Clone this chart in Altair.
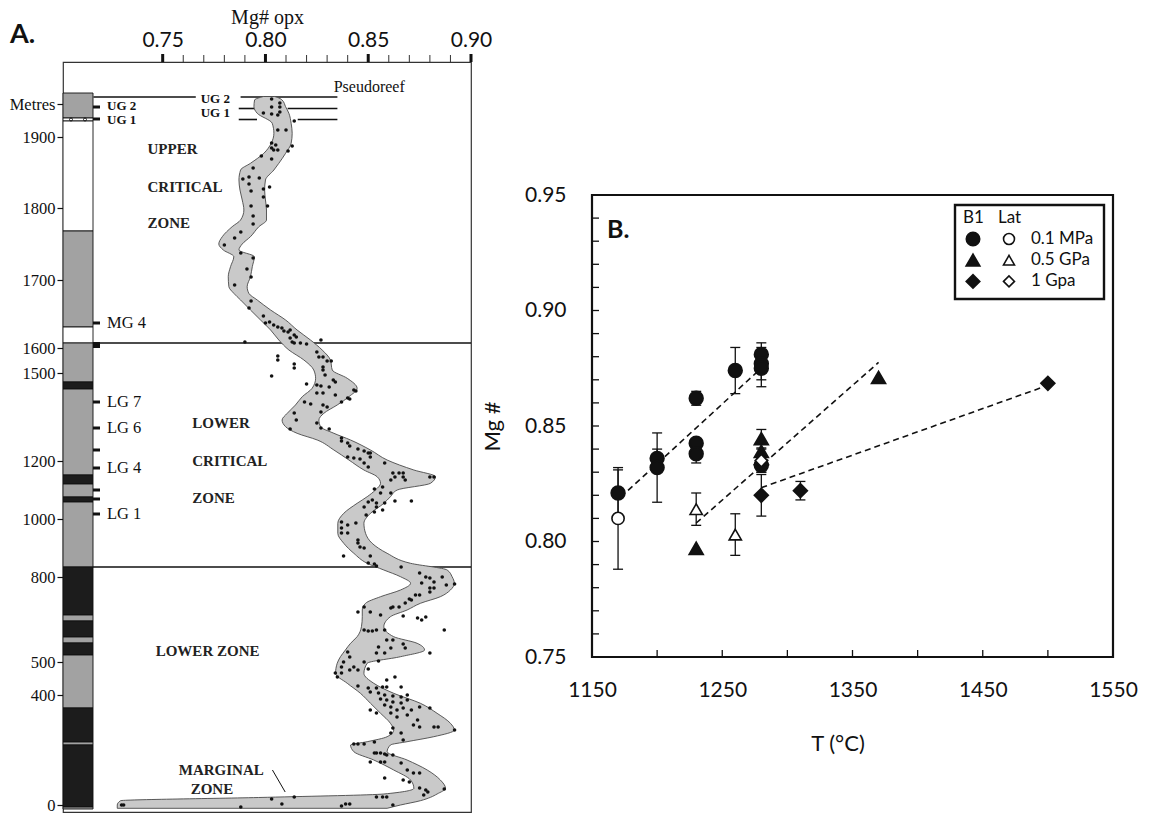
import altair as alt
import pandas as pd

SERIF = "Liberation Serif"
SANS = "Lato"
INK = "#111111"

# ============================ Panel A data ============================
mg_axis_labels = [0.75, 0.80, 0.85, 0.90]
mg_minor_ticks = [0.76, 0.77, 0.78, 0.79, 0.81, 0.82, 0.83, 0.84, 0.86, 0.87, 0.88, 0.89]

# stratigraphic height labels (relative position in the column, bottom = 0)
metre_labels = ["Metres", "1900", "1800", "1700", "1600", "1500", "1200", "1000", "800", "500", "400", "0"]
metre_label_pos = [705, 672, 601, 529, 461, 436, 348, 290, 232, 147, 114, 4]

# lithological column
column_top = [716, 691, 688, 578, 482, 466, 427, 420, 334, 325, 312, 307,
              242, 194, 188, 172, 166, 154, 101, 67, 64, 2]
column_base = [691, 688, 578, 482, 466, 427, 420, 334, 325, 312, 307, 242,
               194, 188, 172, 166, 154, 101, 67, 64, 2, 0]
column_lith = ["gray", "white", "white", "gray", "white", "gray", "black", "gray", "black", "gray", "black", "gray",
               "black", "gray", "black", "gray", "black", "gray", "black", "gray", "black", "gray"]
# small open-circle lithology symbols in the thin white layer below UG1
column_symbol_pos = [689.5, 689.5]
column_symbol_px = [8, 22]

# chromitite layers (ticks right of column)
chromitite_names = ["UG 2", "UG 1", "MG 4", "", "LG 7", "LG 6", "", "LG 4", "", "", "LG 1"]
chromitite_pos = [702, 690, 486, 464, 407, 381, 359, 341, 319, 310, 295]
chromitite_label_pos = [703, 689, 486, 464, 407, 381, 359, 341, 319, 310, 295]
chromitite_width = [3, 3, 3, 6, 3, 3, 3, 3, 3, 3, 3]
bold_chromitites = ["UG 2", "UG 1"]

# zone boundaries
zone_boundary_pos = [466, 242]
zone_boundary_from = [0.716, 0.716]
zone_boundary_to = [0.90, 0.90]

# Pseudoreef / UG2 / UG1 marker lines
reef_line_pos = [712, 712, 700.5, 700.5, 689.5, 689.5]
reef_line_from = [0.7163, 0.7879, 0.7870, 0.8108, 0.7870, 0.8157]
reef_line_to = [0.7661, 0.8350, 0.7967, 0.8350, 0.7959, 0.8350]

zone_names = ["UPPER", "CRITICAL", "ZONE", "LOWER", "CRITICAL", "ZONE", "LOWER ZONE", "MARGINAL", "ZONE"]
zone_name_mg = [0.7426, 0.7426, 0.7426, 0.7644, 0.7644, 0.7644, 0.7466, 0.7578, 0.7636]
zone_name_pos = [660, 622, 586, 386, 348, 311, 158, 39, 20]

seam_names = ["UG 2", "UG 1"]
seam_name_mg = [0.7685, 0.7685]
seam_name_pos = [710, 696]
pseudoreef_name = ["Pseudoreef"]
pseudoreef_mg = [0.8332]
pseudoreef_pos = [722]

leader_mg = [0.8034, 0.8096]
leader_pos = [39, 17]

# envelope of Mg# opx with height
band_pos = [712.5, 711.7, 709, 702.3, 695.7, 685.7, 675.7, 665.7, 655.7, 645.7, 639, 629, 619, 609, 599,
            589, 582.3, 572.3, 565, 559, 552.3, 542.3, 532.3, 522.3, 515.7, 509, 499, 489, 479, 469,
            459, 449, 439, 430.7, 420.7, 412.3, 404, 395.7, 389, 382.3, 375.7, 369, 359, 349, 339,
            332.3, 325.7, 319, 312.3, 305.7, 295.7, 285.7, 275.7, 265.7, 255.7, 245.7, 239, 232.3, 225.7,
            219, 212.3, 205.7, 199, 192.3, 182.3, 172.3, 165.7, 159, 152.3, 145.7, 135.7, 125.7, 115.7,
            105.7, 95.7, 85.7, 79, 72.3, 67.3, 64, 57.3, 49, 39, 29, 20.7, 15, 11.7, 8.3, 4, 0.7]
band_left = [0.7990, 0.7976, 0.7947, 0.7944, 0.7960, 0.8033, 0.8041, 0.8028, 0.7992, 0.7927, 0.7879, 0.7871,
             0.7876, 0.7887, 0.7895, 0.7879, 0.7838, 0.7790, 0.7773, 0.7795, 0.7846, 0.7830, 0.7819, 0.7822,
             0.7846, 0.7879, 0.7927, 0.7976, 0.8025, 0.8065, 0.8114, 0.8187, 0.8235, 0.8244, 0.8227, 0.8179,
             0.8146, 0.8106, 0.8081, 0.8098, 0.8154, 0.8252, 0.8333, 0.8406, 0.8479, 0.8543, 0.8560, 0.8535,
             0.8495, 0.8446, 0.8381, 0.8352, 0.8352, 0.8381, 0.8430, 0.8495, 0.8576, 0.8657, 0.8706, 0.8657,
             0.8560, 0.8487, 0.8471, 0.8471, 0.8467, 0.8446, 0.8414, 0.8389, 0.8365, 0.8349, 0.8341, 0.8398,
             0.8462, 0.8511, 0.8560, 0.8608, 0.8624, 0.8592, 0.8495, 0.8414, 0.8430, 0.8527, 0.8624, 0.8706,
             0.8722, 0.8576, 0.8009, 0.7295, 0.7279, 0.7279]
band_right = [0.8045, 0.8057, 0.8081, 0.8098, 0.8114, 0.8125, 0.8130, 0.8125, 0.8098, 0.8065, 0.8041, 0.8000,
              0.7996, 0.8000, 0.8005, 0.8005, 0.7968, 0.7927, 0.7887, 0.7871, 0.7946, 0.7936, 0.7927, 0.7911,
              0.7919, 0.7960, 0.8025, 0.8098, 0.8154, 0.8219, 0.8276, 0.8316, 0.8325, 0.8398, 0.8446, 0.8406,
              0.8349, 0.8284, 0.8260, 0.8268, 0.8333, 0.8414, 0.8511, 0.8592, 0.8722, 0.8827, 0.8803, 0.8641,
              0.8608, 0.8576, 0.8511, 0.8479, 0.8487, 0.8519, 0.8592, 0.8706, 0.8884, 0.8908, 0.8919, 0.8900,
              0.8851, 0.8754, 0.8689, 0.8608, 0.8576, 0.8624, 0.8738, 0.8774, 0.8657, 0.8495, 0.8479, 0.8527,
              0.8624, 0.8754, 0.8835, 0.8900, 0.8919, 0.8819, 0.8689, 0.8608, 0.8592, 0.8689, 0.8787, 0.8851,
              0.8876, 0.8835, 0.8803, 0.8754, 0.8657, 0.8592]

# individual analyses (Mg#, height position)
dots_upper_critical = [
    (0.803, 710), (0.807, 706), (0.803, 702), (0.807, 702), (0.807, 697), (0.799, 696), (0.803, 695), (0.806, 694),
    (0.814, 688), (0.806, 679), (0.810, 679), (0.803, 666), (0.805, 664), (0.803, 661), (0.804, 659), (0.806, 659),
    (0.813, 663), (0.811, 658), (0.798, 653), (0.803, 650), (0.794, 641), (0.789, 630), (0.792, 632), (0.797, 631),
    (0.792, 625), (0.793, 618), (0.799, 620), (0.802, 622), (0.799, 612), (0.793, 603), (0.801, 603), (0.794, 593),
    (0.794, 585), (0.788, 577), (0.785, 571), (0.780, 564), (0.788, 556), (0.794, 551), (0.791, 540), (0.793, 532),
    (0.785, 524), (0.793, 508), (0.792, 501), (0.799, 493), (0.800, 486), (0.802, 487), (0.804, 484), (0.806, 482),
    (0.808, 481), (0.809, 478), (0.811, 477), (0.812, 479), (0.814, 474), (0.812, 471), (0.815, 472), (0.813, 467),
    (0.814, 466), (0.817, 466), (0.820, 465), (0.790, 467), (0.827, 469)]
dots_lower_critical = [
    (0.806, 453), (0.806, 449), (0.814, 445), (0.814, 441), (0.803, 433), (0.820, 425), (0.825, 457), (0.826, 452),
    (0.828, 452), (0.830, 448), (0.832, 448), (0.828, 442), (0.828, 439), (0.829, 434), (0.833, 429), (0.834, 427),
    (0.825, 424), (0.827, 423), (0.831, 422), (0.843, 419), (0.844, 418), (0.825, 416), (0.828, 416), (0.834, 414),
    (0.840, 411), (0.837, 407), (0.841, 410), (0.819, 407), (0.822, 405), (0.828, 404), (0.830, 402), (0.827, 397),
    (0.814, 396), (0.815, 389), (0.825, 386), (0.812, 380), (0.827, 381), (0.831, 380), (0.837, 371), (0.837, 368),
    (0.840, 366), (0.841, 363), (0.845, 360), (0.848, 358), (0.850, 356), (0.851, 356), (0.840, 352), (0.843, 351),
    (0.846, 350), (0.851, 352), (0.848, 346), (0.850, 342), (0.858, 346), (0.862, 336), (0.865, 336), (0.867, 336),
    (0.863, 332), (0.867, 332), (0.861, 329), (0.868, 329), (0.880, 332), (0.882, 332), (0.853, 320), (0.857, 322),
    (0.856, 316), (0.861, 316), (0.863, 308), (0.871, 308), (0.850, 307), (0.852, 309), (0.854, 306), (0.858, 306),
    (0.848, 302), (0.854, 302), (0.857, 299), (0.853, 297), (0.849, 294), (0.837, 287), (0.840, 284), (0.837, 281),
    (0.844, 286), (0.837, 276), (0.840, 276), (0.845, 269), (0.845, 266), (0.846, 262), (0.838, 253), (0.848, 261),
    (0.851, 253), (0.850, 246), (0.853, 245), (0.854, 243)]
dots_lower_zone = [
    (0.866, 242), (0.875, 236), (0.878, 232), (0.880, 231), (0.886, 232), (0.876, 226), (0.882, 227), (0.888, 224),
    (0.892, 225), (0.880, 221), (0.882, 221), (0.880, 217), (0.873, 214), (0.875, 214), (0.870, 210), (0.871, 209),
    (0.868, 206), (0.862, 202), (0.865, 202), (0.861, 201), (0.848, 202), (0.845, 197), (0.851, 197), (0.856, 194),
    (0.867, 193), (0.874, 191), (0.876, 189), (0.878, 192), (0.887, 179), (0.848, 179), (0.850, 178), (0.852, 178),
    (0.854, 179), (0.858, 179), (0.859, 169), (0.862, 169), (0.867, 165), (0.855, 162), (0.861, 161), (0.868, 161),
    (0.880, 156), (0.840, 157), (0.854, 156), (0.858, 156), (0.841, 152), (0.838, 147), (0.837, 142), (0.843, 142),
    (0.848, 147), (0.855, 148), (0.834, 136), (0.835, 132), (0.837, 136), (0.841, 139), (0.845, 139), (0.850, 140),
    (0.863, 132), (0.859, 129), (0.866, 122), (0.845, 123), (0.850, 121), (0.854, 121), (0.857, 122), (0.859, 122),
    (0.851, 117), (0.855, 116), (0.858, 114), (0.862, 113), (0.866, 112), (0.869, 114), (0.856, 110), (0.859, 109),
    (0.862, 107), (0.866, 106), (0.869, 109), (0.858, 104), (0.861, 102), (0.864, 99), (0.867, 101), (0.871, 99),
    (0.875, 102), (0.880, 101), (0.851, 99), (0.854, 96), (0.861, 96), (0.864, 92), (0.869, 94), (0.874, 89),
    (0.872, 84), (0.875, 82), (0.882, 82), (0.884, 82), (0.892, 79), (0.862, 81), (0.866, 76), (0.861, 76),
    (0.867, 69), (0.843, 65), (0.845, 65), (0.848, 65), (0.853, 67), (0.853, 56), (0.854, 56), (0.856, 56),
    (0.858, 55), (0.859, 54), (0.862, 54), (0.851, 47), (0.856, 47), (0.858, 47), (0.858, 31), (0.866, 46),
    (0.869, 39), (0.867, 29), (0.870, 27), (0.872, 36), (0.875, 36), (0.875, 21), (0.878, 19), (0.887, 20),
    (0.877, 14), (0.879, 17)]
dots_marginal = [
    (0.854, 12), (0.857, 12), (0.859, 12), (0.862, 4), (0.837, 3), (0.839, 5), (0.841, 5), (0.814, 12),
    (0.803, 10), (0.808, 5), (0.788, 2), (0.730, 4), (0.731, 4)]

# ============================ Panel B data ============================
T_axis_labels = [1150, 1250, 1350, 1450, 1550]
T_minor_ticks = [1200, 1250, 1300, 1350, 1400, 1450, 1500]
MgB_axis_labels = [0.75, 0.80, 0.85, 0.90, 0.95]
MgB_minor_ticks = [0.76, 0.77, 0.78, 0.79, 0.80, 0.81, 0.82, 0.83, 0.84, 0.85,
                   0.86, 0.87, 0.88, 0.89, 0.90, 0.91, 0.92, 0.93, 0.94]

exp_T = [1170, 1200, 1200, 1230, 1230, 1230, 1260, 1280, 1280, 1280, 1280,
         1170,
         1230, 1280, 1280, 1280, 1370,
         1230, 1260,
         1280, 1310, 1500,
         1280]
exp_Mg = [0.821, 0.836, 0.832, 0.862, 0.8425, 0.838, 0.874, 0.881, 0.877, 0.875, 0.833,
          0.810,
          0.797, 0.8445, 0.839, 0.836, 0.871,
          0.814, 0.803,
          0.820, 0.822, 0.8685,
          0.835]
exp_err = [0.010, 0.004, 0.015, 0.003, 0.0, 0.004, 0.010, 0.005, 0.007, 0.008, 0.003,
           0.022,
           0.0, 0.004, 0.0, 0.0, 0.0,
           0.007, 0.009,
           0.009, 0.004, 0.0,
           0.005]
exp_set = ["B1"] * 11 + ["Lat"] + ["B1"] * 5 + ["Lat"] * 2 + ["B1"] * 3 + ["Lat"]
exp_pressure = ["0.1 MPa"] * 12 + ["0.5 GPa"] * 7 + ["1 Gpa"] * 4

trend_group = ["0.1 MPa", "0.1 MPa", "0.5 GPa", "0.5 GPa", "1 Gpa", "1 Gpa"]
trend_T = [1172, 1278, 1230, 1370, 1280, 1497]
trend_Mg = [0.8192, 0.8740, 0.808, 0.8775, 0.8233, 0.867]

legend_pressures = ["0.1 MPa", "0.5 GPa", "1 Gpa"]
legend_heads = ["B1", "Lat"]
pressure_shapes = ["circle", "triangle-up", "diamond"]

# ============================ Panel A chart ============================
A_W, A_H = 408, 750
xA = alt.Scale(domain=[0.7015, 0.90], nice=False, zero=False)
yA = alt.Scale(domain=[-3, 747], nice=False, zero=False)

label_expr = " : ".join(f"datum.value == {p} ? '{t}'" for p, t in zip(metre_label_pos, metre_labels)) + " : ''"

top_axis = alt.Axis(orient="top", values=mg_axis_labels, format=".2f", labelFont=SANS, labelFontSize=21,
                    labelColor=INK, ticks=False, tickSize=0, domain=False, grid=False, labelPadding=12,
                    labelFlush=False, labelOverlap=False,
                    title="Mg# opx", titleFont=SERIF, titleFontSize=20, titleFontWeight="normal",
                    titleColor=INK, titlePadding=2)
left_axis = alt.Axis(orient="left", values=metre_label_pos, labelExpr=label_expr, labelFont=SERIF,
                     labelFontSize=16.5, labelColor=INK, tickSize=6, tickColor=INK, tickWidth=1.2,
                     domain=False, grid=False, labelPadding=2, labelOverlap=False, title=None)


def XA(field):
    return alt.X(field, scale=xA, axis=top_axis)


def YA(field):
    return alt.Y(field, scale=yA, axis=left_axis)


zone_rules = alt.Chart(pd.DataFrame({"pos": zone_boundary_pos, "a": zone_boundary_from,
                                     "b": zone_boundary_to})).mark_rule(color=INK, strokeWidth=1.3).encode(
    x=XA("a:Q"), x2="b:Q", y=YA("pos:Q"))

reef_rules = alt.Chart(pd.DataFrame({"pos": reef_line_pos, "a": reef_line_from,
                                     "b": reef_line_to})).mark_rule(color=INK, strokeWidth=1.6).encode(
    x=XA("a:Q"), x2="b:Q", y=YA("pos:Q"))

band_df = pd.DataFrame({"pos": band_pos, "left": band_left, "right": band_right}).sort_values("pos")
band = alt.Chart(band_df).mark_area(orient="horizontal", interpolate="monotone", fill="#c9c9c9",
                                    stroke="#4a4a4a", strokeWidth=0.9).encode(
    y=YA("pos:Q"), x=XA("left:Q"), x2="right:Q")

all_dots = dots_upper_critical + dots_lower_critical + dots_lower_zone + dots_marginal
dots_df = pd.DataFrame({"mg": [d[0] for d in all_dots], "pos": [d[1] for d in all_dots]})
dots = alt.Chart(dots_df).mark_circle(size=13, color=INK, opacity=1).encode(
    x=XA("mg:Q"), y=YA("pos:Q"))

col_df = pd.DataFrame({"top": column_top, "base": column_base, "lith": column_lith})
column = alt.Chart(col_df).mark_rect(stroke=INK, strokeWidth=0.9).encode(
    x=alt.value(0), x2=alt.value(30),
    y=YA("top:Q"), y2="base:Q",
    fill=alt.Fill("lith:N", scale=alt.Scale(domain=["gray", "white", "black"],
                                            range=["#a2a2a2", "#ffffff", "#1c1c1c"]), legend=None))
col_symbols = alt.Chart(pd.DataFrame({"pos": column_symbol_pos, "px": column_symbol_px})).mark_point(
    shape="circle", size=9, filled=False, stroke=INK, strokeWidth=0.9, opacity=1).encode(
    x=alt.X("px:Q", scale=None), y=YA("pos:Q"))

chrom_df = pd.DataFrame({"name": chromitite_names, "pos": chromitite_pos,
                         "lpos": chromitite_label_pos, "w": chromitite_width})
chrom_ticks = alt.Chart(chrom_df).mark_rule(color=INK).encode(
    x=alt.value(30), x2=alt.value(37), y=YA("pos:Q"),
    strokeWidth=alt.StrokeWidth("w:Q", scale=None))
chrom_bold = alt.Chart(chrom_df[chrom_df["name"].isin(bold_chromitites)]).mark_text(
    font=SERIF, fontSize=13, fontWeight="bold", align="left", baseline="middle", color=INK).encode(
    x=alt.value(44), y=YA("lpos:Q"), text="name:N")
chrom_plain = alt.Chart(chrom_df[~chrom_df["name"].isin(bold_chromitites) & (chrom_df["name"] != "")]).mark_text(
    font=SERIF, fontSize=16.5, align="left", baseline="middle", color=INK).encode(
    x=alt.value(44), y=YA("lpos:Q"), text="name:N")

zone_text = alt.Chart(pd.DataFrame({"t": zone_names, "mg": zone_name_mg, "pos": zone_name_pos})).mark_text(
    font=SERIF, fontSize=15, fontWeight="bold", align="left", baseline="middle", color="#222").encode(
    x=XA("mg:Q"), y=YA("pos:Q"), text="t:N")
seam_text = alt.Chart(pd.DataFrame({"t": seam_names, "mg": seam_name_mg, "pos": seam_name_pos})).mark_text(
    font=SERIF, fontSize=13, fontWeight="bold", align="left", baseline="middle", color=INK).encode(
    x=XA("mg:Q"), y=YA("pos:Q"), text="t:N")
reef_text = alt.Chart(pd.DataFrame({"t": pseudoreef_name, "mg": pseudoreef_mg, "pos": pseudoreef_pos})).mark_text(
    font=SERIF, fontSize=16, align="left", baseline="middle", color=INK).encode(
    x=XA("mg:Q"), y=YA("pos:Q"), text="t:N")
leader = alt.Chart(pd.DataFrame({"a": [leader_mg[0]], "b": [leader_mg[1]],
                                 "p1": [leader_pos[0]], "p2": [leader_pos[1]]})).mark_rule(
    color=INK, strokeWidth=1).encode(x=XA("a:Q"), x2="b:Q", y=YA("p1:Q"), y2="p2:Q")

major_ticks = alt.Chart(pd.DataFrame({"v": mg_axis_labels})).mark_rule(color=INK, strokeWidth=3).encode(
    x=XA("v:Q"), y=alt.value(-8), y2=alt.value(0))
minor_ticks = alt.Chart(pd.DataFrame({"v": mg_minor_ticks})).mark_rule(color="#333", strokeWidth=1).encode(
    x=XA("v:Q"), y=alt.value(-7), y2=alt.value(0))

a_label = alt.Chart(pd.DataFrame({"t": ["A."]})).mark_text(
    font=SANS, fontSize=27, fontWeight="bold", align="left", baseline="middle", color=INK).encode(
    x=alt.value(-53), y=alt.value(-27), text="t:N")

panelA = alt.layer(zone_rules, reef_rules, band, dots, column, col_symbols, chrom_ticks, chrom_bold,
                   chrom_plain, zone_text, seam_text, reef_text, leader, major_ticks, minor_ticks,
                   a_label).properties(
    width=A_W, height=A_H, view=alt.ViewBackground(stroke="#333333", strokeWidth=1.2))

# ============================ Panel B chart ============================
B_W, B_H = 521, 462
xB = alt.Scale(domain=[1150, 1550], nice=False, zero=False)
yB = alt.Scale(domain=[0.75, 0.95], nice=False, zero=False)
shape_scale = alt.Scale(domain=legend_pressures, range=pressure_shapes)

x_axis_B = alt.Axis(values=T_axis_labels, format="d", labelFont=SANS, labelFontSize=21, labelColor=INK,
                    ticks=False, tickSize=0, domain=False, grid=False, labelPadding=22, labelFlush=False,
                    labelOverlap=False, title="T (°C)", titleFont=SANS, titleFontSize=22,
                    titleFontWeight="normal", titleColor=INK, titlePadding=33, titleX=B_W / 2 - 15)
y_axis_B = alt.Axis(values=MgB_axis_labels, format=".2f", labelFont=SANS, labelFontSize=21, labelColor=INK,
                    ticks=False, tickSize=0, domain=False, grid=False, labelPadding=26, labelFlush=False,
                    labelOverlap=False, title="Mg #", titleFont=SANS, titleFontSize=22,
                    titleFontWeight="normal", titleColor=INK, titlePadding=20)


def XB(field):
    return alt.X(field, scale=xB, axis=x_axis_B)


def YB(field):
    return alt.Y(field, scale=yB, axis=y_axis_B)


exp_df = pd.DataFrame({"T": exp_T, "Mg": exp_Mg, "err": exp_err, "set": exp_set, "p": exp_pressure})
exp_df["lo"] = exp_df["Mg"] - exp_df["err"]
exp_df["hi"] = exp_df["Mg"] + exp_df["err"]
err_df = exp_df[exp_df["err"] > 0]

trend = alt.Chart(pd.DataFrame({"g": trend_group, "T": trend_T, "Mg": trend_Mg})).mark_line(
    color=INK, strokeWidth=1.6, strokeDash=[6, 4]).encode(
    x=XB("T:Q"), y=YB("Mg:Q"), detail="g:N")

err_rules = alt.Chart(err_df).mark_rule(color=INK, strokeWidth=1.3).encode(
    x=XB("T:Q"), y=YB("lo:Q"), y2="hi:Q")
cap_lo = alt.Chart(err_df).mark_rule(color=INK, strokeWidth=1.3, xOffset=-5, x2Offset=5).encode(
    x=XB("T:Q"), x2="T:Q", y=YB("lo:Q"))
cap_hi = alt.Chart(err_df).mark_rule(color=INK, strokeWidth=1.3, xOffset=-5, x2Offset=5).encode(
    x=XB("T:Q"), x2="T:Q", y=YB("hi:Q"))

pts_filled = alt.Chart(exp_df[exp_df["set"] == "B1"]).mark_point(
    filled=True, fill=INK, stroke=INK, opacity=1, size=180).encode(
    x=XB("T:Q"), y=YB("Mg:Q"), shape=alt.Shape("p:N", scale=shape_scale, legend=None))
pts_open = alt.Chart(exp_df[exp_df["set"] == "Lat"]).mark_point(
    filled=True, fill="white", stroke=INK, strokeWidth=1.6, opacity=1, size=150).encode(
    x=XB("T:Q"), y=YB("Mg:Q"), shape=alt.Shape("p:N", scale=shape_scale, legend=None))

y_ticks_B = alt.Chart(pd.DataFrame({"v": MgB_minor_ticks})).mark_rule(color=INK, strokeWidth=1.3).encode(
    y=YB("v:Q"), x=alt.value(0), x2=alt.value(7))
x_ticks_B = alt.Chart(pd.DataFrame({"v": T_minor_ticks})).mark_rule(color=INK, strokeWidth=1.3).encode(
    x=XB("v:Q"), y=alt.value(B_H), y2=alt.value(B_H - 7))

# custom legend box (top-right inside the frame)
LWD, LHT = 149, 94
LX, LY = B_W - 9 - LWD, 10
legend_box = alt.Chart(pd.DataFrame({"k": [0]})).mark_rect(
    fill="white", stroke=INK, strokeWidth=2.4).encode(
    x=alt.value(LX), x2=alt.value(LX + LWD), y=alt.value(LY), y2=alt.value(LY + LHT))
leg_rows = pd.DataFrame({"p": legend_pressures,
                         "ry": [LY + 34 + 21.2 * i for i in range(len(legend_pressures))]})
leg_filled = alt.Chart(leg_rows).mark_point(filled=True, fill=INK, stroke=INK, opacity=1, size=170).encode(
    x=alt.value(LX + 18), y=alt.Y("ry:Q", scale=None), shape=alt.Shape("p:N", scale=shape_scale, legend=None))
leg_open = alt.Chart(leg_rows).mark_point(filled=True, fill="white", stroke=INK, strokeWidth=1.6,
                                          opacity=1, size=120).encode(
    x=alt.value(LX + 54), y=alt.Y("ry:Q", scale=None), shape=alt.Shape("p:N", scale=shape_scale, legend=None))
leg_text = alt.Chart(leg_rows).mark_text(font=SANS, fontSize=17, align="left", baseline="middle",
                                         color=INK).encode(
    x=alt.value(LX + 76), y=alt.Y("ry:Q", scale=None), text="p:N")
leg_head = alt.Chart(pd.DataFrame({"h": legend_heads, "rx": [LX + 8, LX + 43]})).mark_text(
    font=SANS, fontSize=17, align="left", baseline="middle", color=INK).encode(
    x=alt.X("rx:Q", scale=None), y=alt.value(LY + 13), text="h:N")

b_label = alt.Chart(pd.DataFrame({"t": ["B."]})).mark_text(
    font=SANS, fontSize=25, fontWeight="bold", align="left", baseline="middle", color=INK).encode(
    x=alt.value(15), y=alt.value(35), text="t:N")

panelB = alt.layer(trend, err_rules, cap_lo, cap_hi, pts_filled, pts_open, y_ticks_B, x_ticks_B,
                   legend_box, leg_filled, leg_open, leg_text, leg_head, b_label).properties(
    width=B_W, height=B_H, view=alt.ViewBackground(stroke=INK, strokeWidth=2.2))

spacer = alt.Chart(pd.DataFrame({"t": [""]})).mark_text().encode(text="t:N").properties(
    width=B_W, height=133, view=alt.ViewBackground(stroke="transparent"))

right = alt.vconcat(spacer, panelB, spacing=0, bounds="flush")
chart = alt.hconcat(panelA, right, spacing=121, bounds="flush").properties(
    padding={"left": 8, "top": 6, "right": 5, "bottom": 0},
    background="white")

chart.save("out.html", embed_options={"renderer": "svg", "actions": False})
